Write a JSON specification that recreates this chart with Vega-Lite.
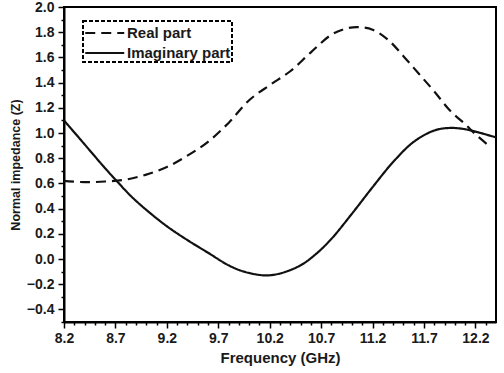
{
  "$schema": "https://vega.github.io/schema/vega-lite/v6.json",
  "autosize": "none",
  "width": 432,
  "height": 315,
  "padding": {"left": 64, "top": 7, "right": 8, "bottom": 51},
  "background": "white",
  "config": {
    "view": {"stroke": "black", "strokeWidth": 2},
    "font": "Liberation Sans",
    "axis": {"labelFont": "Liberation Sans", "labelFontWeight": "bold", "labelFontSize": 14, "labelColor": "#1a1a1a", "titleFont": "Liberation Sans", "titleFontWeight": "bold", "titleColor": "#1a1a1a", "domainColor": "black", "domainWidth": 2, "tickColor": "black", "tickWidth": 1.5, "grid": false}
  },
  "data": {"values": [
    {"f": 8.2, "z": 0.62, "s": "Real part"},
    {"f": 8.4, "z": 0.61, "s": "Real part"},
    {"f": 8.6, "z": 0.615, "s": "Real part"},
    {"f": 8.8, "z": 0.63, "s": "Real part"},
    {"f": 9.0, "z": 0.67, "s": "Real part"},
    {"f": 9.2, "z": 0.73, "s": "Real part"},
    {"f": 9.4, "z": 0.82, "s": "Real part"},
    {"f": 9.6, "z": 0.93, "s": "Real part"},
    {"f": 9.8, "z": 1.08, "s": "Real part"},
    {"f": 10.0, "z": 1.26, "s": "Real part"},
    {"f": 10.2, "z": 1.38, "s": "Real part"},
    {"f": 10.4, "z": 1.49, "s": "Real part"},
    {"f": 10.6, "z": 1.64, "s": "Real part"},
    {"f": 10.8, "z": 1.78, "s": "Real part"},
    {"f": 10.95, "z": 1.83, "s": "Real part"},
    {"f": 11.06, "z": 1.84, "s": "Real part"},
    {"f": 11.2, "z": 1.82, "s": "Real part"},
    {"f": 11.35, "z": 1.74, "s": "Real part"},
    {"f": 11.5, "z": 1.61, "s": "Real part"},
    {"f": 11.65, "z": 1.47, "s": "Real part"},
    {"f": 11.8, "z": 1.33, "s": "Real part"},
    {"f": 11.95, "z": 1.18, "s": "Real part"},
    {"f": 12.1, "z": 1.07, "s": "Real part"},
    {"f": 12.2, "z": 0.99, "s": "Real part"},
    {"f": 12.33, "z": 0.9, "s": "Real part"},
    {"f": 8.2, "z": 1.1, "s": "Imaginary part"},
    {"f": 8.4, "z": 0.91, "s": "Imaginary part"},
    {"f": 8.6, "z": 0.72, "s": "Imaginary part"},
    {"f": 8.7, "z": 0.63, "s": "Imaginary part"},
    {"f": 8.85, "z": 0.5, "s": "Imaginary part"},
    {"f": 9.0, "z": 0.39, "s": "Imaginary part"},
    {"f": 9.2, "z": 0.26, "s": "Imaginary part"},
    {"f": 9.4, "z": 0.15, "s": "Imaginary part"},
    {"f": 9.6, "z": 0.05, "s": "Imaginary part"},
    {"f": 9.8, "z": -0.05, "s": "Imaginary part"},
    {"f": 9.95, "z": -0.1, "s": "Imaginary part"},
    {"f": 10.15, "z": -0.13, "s": "Imaginary part"},
    {"f": 10.3, "z": -0.115, "s": "Imaginary part"},
    {"f": 10.5, "z": -0.05, "s": "Imaginary part"},
    {"f": 10.65, "z": 0.04, "s": "Imaginary part"},
    {"f": 10.8, "z": 0.16, "s": "Imaginary part"},
    {"f": 11.0, "z": 0.36, "s": "Imaginary part"},
    {"f": 11.2, "z": 0.57, "s": "Imaginary part"},
    {"f": 11.4, "z": 0.77, "s": "Imaginary part"},
    {"f": 11.6, "z": 0.93, "s": "Imaginary part"},
    {"f": 11.8, "z": 1.02, "s": "Imaginary part"},
    {"f": 11.95, "z": 1.04, "s": "Imaginary part"},
    {"f": 12.1, "z": 1.03, "s": "Imaginary part"},
    {"f": 12.25, "z": 1.0, "s": "Imaginary part"},
    {"f": 12.4, "z": 0.965, "s": "Imaginary part"}
  ]},
  "layer": [
    {
      "mark": {"type": "line", "interpolate": "catmull-rom", "strokeWidth": 2.2, "color": "#111"},
      "encoding": {
        "x": {"field": "f", "type": "quantitative", "scale": {"domain": [8.2, 12.4], "nice": false, "zero": false},
              "axis": {"title": "Frequency (GHz)", "titleFontSize": 15, "values": [8.2, 8.7, 9.2, 9.7, 10.2, 10.7, 11.2, 11.7, 12.2], "format": ".1f", "tickSize": 6, "labelPadding": 3, "titlePadding": 5, "labelFlush": false}},
        "y": {"field": "z", "type": "quantitative", "scale": {"domain": [-0.5, 2.0], "nice": false, "zero": false},
              "axis": {"title": "Normal impedance (Z)", "titleFontSize": 12.5, "values": [-0.4, -0.2, 0.0, 0.2, 0.4, 0.6, 0.8, 1.0, 1.2, 1.4, 1.6, 1.8, 2.0], "format": ".1f", "tickSize": 6, "labelPadding": 4, "titlePadding": 4, "labelFlush": false}},
        "strokeDash": {"field": "s", "type": "nominal",
          "scale": {"domain": ["Real part", "Imaginary part"], "range": [[10, 6], [1, 0]]},
          "legend": {"title": null, "orient": "none", "legendX": 19, "legendY": 14, "padding": 1,
                     "symbolType": "M-1,0H3", "symbolSize": 380, "symbolStrokeWidth": 2.2, "symbolStrokeColor": "#111",
                     "labelOffset": 21, "labelFont": "Liberation Sans", "labelFontWeight": "bold", "labelFontSize": 15, "labelColor": "#1a1a1a",
                     "rowPadding": 1,
                     "encode": {"legend": {"update": {"stroke": {"value": "black"}, "strokeWidth": {"value": 2}, "strokeDash": {"value": [4, 2]}}}}}}
      }
    },
    {
      "mark": {"type": "line", "strokeOpacity": 0},
      "encoding": {
        "x": {"field": "f", "type": "quantitative",
              "axis": {"orient": "bottom", "title": null, "labels": false, "domain": false, "tickSize": 3, "values": [8.3, 8.4, 8.5, 8.6, 8.8, 8.9, 9.0, 9.1, 9.3, 9.4, 9.5, 9.6, 9.8, 9.9, 10.0, 10.1, 10.3, 10.4, 10.5, 10.6, 10.8, 10.9, 11.0, 11.1, 11.3, 11.4, 11.5, 11.6, 11.8, 11.9, 12.0, 12.1, 12.3]}},
        "y": {"field": "z", "type": "quantitative",
              "axis": {"orient": "left", "title": null, "labels": false, "domain": false, "tickSize": 3, "values": [-0.5, -0.3, -0.1, 0.1, 0.3, 0.5, 0.7, 0.9, 1.1, 1.3, 1.5, 1.7, 1.9]}},
        "detail": {"field": "s", "type": "nominal"}
      }
    }
  ],
  "resolve": {"axis": {"x": "independent", "y": "independent"}}
}
